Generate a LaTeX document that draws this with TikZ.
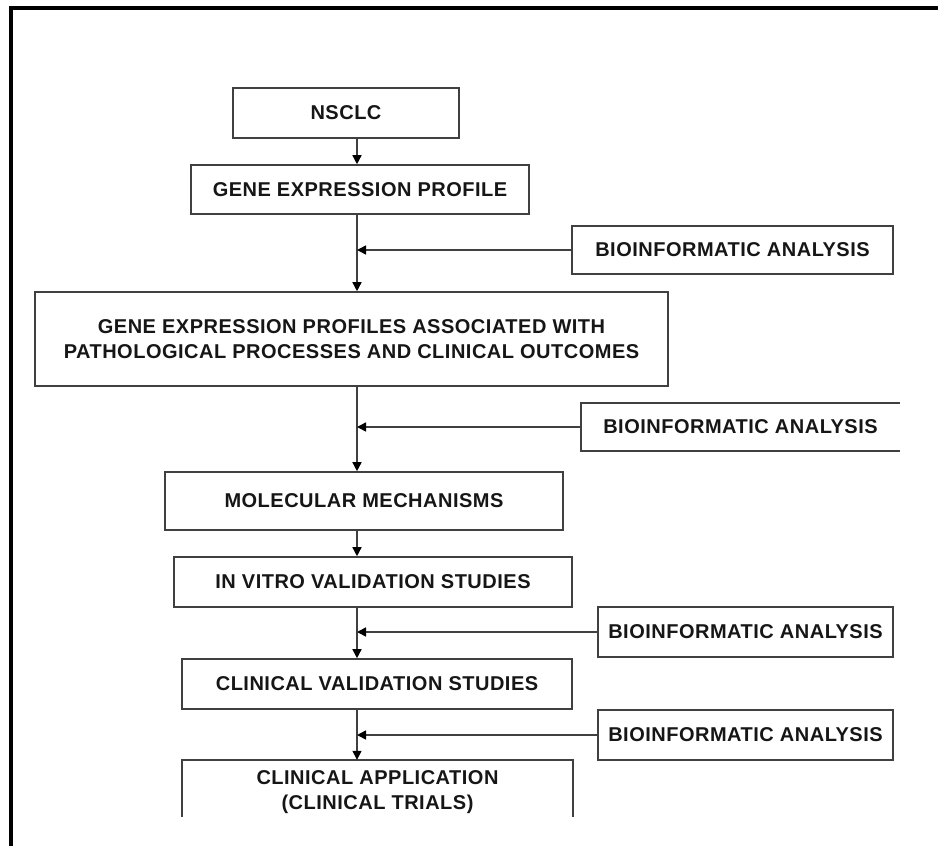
\documentclass[tikz,border=0pt]{standalone}
\usepackage{fontspec}
\setmainfont{Liberation Sans}[LetterSpace=2.5]
\usetikzlibrary{arrows.meta}
\definecolor{txtc}{HTML}{161616}
\definecolor{linec}{HTML}{404040}
\begin{document}
\begin{tikzpicture}[x=1pt,y=-1pt,
  boxtext/.style={inner sep=0pt, align=center, text=txtc,
    font=\fontsize{20}{24.5}\selectfont\bfseries},
  box/.style={boxtext, draw=linec, line width=1.6pt},
  conn/.style={draw=linec, line width=1.5pt},
  arr/.style={conn, -{Triangle[width=9pt,length=9pt,fill=black,color=black]}},
  frameline/.style={draw=black, line width=4pt}]
\useasboundingbox (0,0) rectangle (938,846);
\fill[white] (0,0) rectangle (938,846);
% outer frame (top and left sides visible)
\coordinate (ftl) at (11,8);
\coordinate (ftr) at (938,8);
\coordinate (fbl) at (11,846);
\draw[frameline] (fbl) -- (ftl) -- (ftr);
% spine x-position
\coordinate (spine) at (357,0);
% main chain
\node[box, minimum width=226pt, minimum height=50pt] (nsclc) at (346,113) {NSCLC};
\node[box, minimum width=338pt, minimum height=49pt] (gep) at (360,189.5) {GENE EXPRESSION PROFILE};
\node[box, minimum width=633pt, minimum height=94pt] (big) at (351.5,339)
  {GENE EXPRESSION PROFILES ASSOCIATED WITH\\PATHOLOGICAL PROCESSES AND CLINICAL OUTCOMES};
\node[box, minimum width=398pt, minimum height=58pt] (mm) at (364,501) {MOLECULAR MECHANISMS};
\node[box, minimum width=398pt, minimum height=50pt] (ivvs) at (373,582) {IN VITRO VALIDATION STUDIES};
\node[box, minimum width=390pt, minimum height=50pt] (cvs) at (377,684) {CLINICAL VALIDATION STUDIES};
\node[boxtext, minimum width=391pt, minimum height=64pt] (ca) at (377.5,792)
  {CLINICAL APPLICATION\\(CLINICAL TRIALS)};
\draw[conn, line width=1.6pt] (ca.north west) ++(0,57) -- (ca.north west) -- (ca.north east) -- ++(0,57);
% side boxes
\node[box, minimum width=321pt, minimum height=48pt] (bio1) at (732.5,250) {BIOINFORMATIC ANALYSIS};
\node[boxtext, minimum width=319pt, minimum height=48pt] (bio2) at (740.5,427) {BIOINFORMATIC ANALYSIS};
\draw[conn, line width=1.6pt] (bio2.north east) -- (bio2.north west) -- (bio2.south west) -- (bio2.south east);
\node[box, minimum width=295pt, minimum height=50pt] (bio3) at (745.5,632) {BIOINFORMATIC ANALYSIS};
\node[box, minimum width=295pt, minimum height=50pt] (bio4) at (745.5,735) {BIOINFORMATIC ANALYSIS};
% vertical connectors
\draw[arr] (nsclc.south -| spine) -- (gep.north -| spine);
\draw[arr] (gep.south -| spine) -- (big.north -| spine);
\draw[arr] (big.south -| spine) -- (mm.north -| spine);
\draw[arr] (mm.south -| spine) -- (ivvs.north -| spine);
\draw[arr] (ivvs.south -| spine) -- (cvs.north -| spine);
\draw[arr] (cvs.south -| spine) -- (ca.north -| spine);
% horizontal connectors
\draw[arr] (bio1.west) -- (bio1.west -| spine);
\draw[arr] (bio2.west) -- (bio2.west -| spine);
\draw[arr] (bio3.west) -- (bio3.west -| spine);
\draw[arr] (bio4.west) -- (bio4.west -| spine);
\end{tikzpicture}
\end{document}
